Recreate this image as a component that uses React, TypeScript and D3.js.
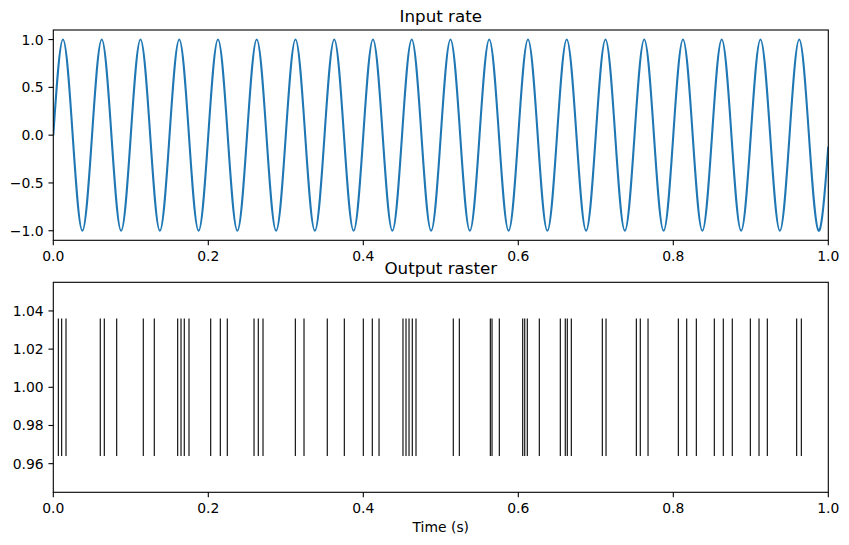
import React from "react";
import * as d3 from "d3";

// Input rate key readings (peaks, zero crossings, troughs)
const rateTimes = [
  0, 0.0125, 0.025, 0.0375, 0.05, 0.0625, 0.075, 0.0875, 0.1, 0.1125, 0.125, 0.1375,
  0.15, 0.1625, 0.175, 0.1875, 0.2, 0.2125, 0.225, 0.2375, 0.25, 0.2625, 0.275, 0.2875,
  0.3, 0.3125, 0.325, 0.3375, 0.35, 0.3625, 0.375, 0.3875, 0.4, 0.4125, 0.425, 0.4375,
  0.45, 0.4625, 0.475, 0.4875, 0.5, 0.5125, 0.525, 0.5375, 0.55, 0.5625, 0.575, 0.5875,
  0.6, 0.6125, 0.625, 0.6375, 0.65, 0.6625, 0.675, 0.6875, 0.7, 0.7125, 0.725, 0.7375,
  0.75, 0.7625, 0.775, 0.7875, 0.8, 0.8125, 0.825, 0.8375, 0.85, 0.8625, 0.875, 0.8875,
  0.9, 0.9125, 0.925, 0.9375, 0.95, 0.9625, 0.975, 0.9875, 1.0,
];
const rateValues = [
  0, 1, 0, -1, 0, 1, 0, -1, 0, 1, 0, -1,
  0, 1, 0, -1, 0, 1, 0, -1, 0, 1, 0, -1,
  0, 1, 0, -1, 0, 1, 0, -1, 0, 1, 0, -1,
  0, 1, 0, -1, 0, 1, 0, -1, 0, 1, 0, -1,
  0, 1, 0, -1, 0, 1, 0, -1, 0, 1, 0, -1,
  0, 1, 0, -1, 0, 1, 0, -1, 0, 1, 0, -1,
  0, 1, 0, -1, 0, 1, 0, -1, -0.12,
];

// Output raster spike times
const spikeTimes = [
  0.0065, 0.0108, 0.0164, 0.0606, 0.0658, 0.0818, 0.1161, 0.1303, 0.1605, 0.1648,
  0.169, 0.1751, 0.2031, 0.2155, 0.2245, 0.259, 0.2645, 0.2706, 0.3123, 0.3235,
  0.3535, 0.3755, 0.4, 0.4116, 0.4203, 0.4512, 0.4551, 0.459, 0.4632, 0.468,
  0.5161, 0.5239, 0.5639, 0.5661, 0.5755, 0.6057, 0.6083, 0.6116, 0.6271, 0.6542,
  0.6606, 0.6632, 0.6684, 0.7084, 0.7132, 0.7523, 0.7574, 0.7674, 0.8065, 0.8173,
  0.8297, 0.8529, 0.8645, 0.8761, 0.8994, 0.9106, 0.9213, 0.9592, 0.9652,
];
const spikeOffset = 1.0;
const spikeHalfLength = 0.036;

const xTicks = [0, 0.2, 0.4, 0.6, 0.8, 1.0];
const rateTicks = [-1.0, -0.5, 0.0, 0.5, 1.0];
const rasterTicks = [0.96, 0.98, 1.0, 1.02, 1.04];

const W = 849;
const H = 545;
const left = 53.3;
const right = 828.3;
const top1 = 30, bottom1 = 240.3;
const top2 = 282.3, bottom2 = 492.3;
const FONT = "DejaVu Sans, sans-serif";
const TICK = 4.86;
const PAD = 4.86;
const fs = 13.9;

const fmt = (v: number, d: number) => {
  const s = Math.abs(v).toFixed(d);
  return v < 0 ? "\u2212" + s : s;
};

function Axes({ y0, y1, yScale, yTicks, yDigits, title, children }: any) {
  const x = d3.scaleLinear().domain([0, 1]).range([left, right]);
  return (
    <g>
      {children}
      <rect x={left} y={y0} width={right - left} height={y1 - y0} fill="none" stroke="#000" strokeWidth={1.1} />
      {xTicks.map((t) => (
        <g key={"x" + t}>
          <line x1={x(t)} x2={x(t)} y1={y1} y2={y1 + TICK} stroke="#000" strokeWidth={1.1} />
          <text x={x(t)} y={y1 + TICK + PAD + fs * 0.76} textAnchor="middle" fontSize={fs} fontFamily={FONT} fill="#000">
            {t.toFixed(1)}
          </text>
        </g>
      ))}
      {yTicks.map((t: number) => (
        <g key={"y" + t}>
          <line x1={left - TICK} x2={left} y1={yScale(t)} y2={yScale(t)} stroke="#000" strokeWidth={1.1} />
          <text x={left - TICK - PAD} y={yScale(t)} dy="0.36em" textAnchor="end" fontSize={fs} fontFamily={FONT} fill="#000">
            {fmt(t, yDigits)}
          </text>
        </g>
      ))}
      <text x={(left + right) / 2} y={y0 - 8.3} textAnchor="middle" fontSize={16.7} fontFamily={FONT} fill="#000">
        {title}
      </text>
    </g>
  );
}

export default function App() {
  const x = d3.scaleLinear().domain([0, 1]).range([left, right]);
  const y1 = d3.scaleLinear().domain([-1.1, 1.1]).range([bottom1, top1]);
  const y2 = d3.scaleLinear().domain([0.945, 1.055]).range([bottom2, top2]);
  const pts = rateTimes.map((t, i) => [t, rateValues[i]] as [number, number]);
  const line = d3
    .line<[number, number]>()
    .x((d) => x(d[0]))
    .y((d) => y1(d[1]))
    .curve(d3.curveNatural);

  return (
    <svg width={W} height={H} style={{ position: "absolute", left: 0, top: 0, background: "#fff" }}>
      <rect width={W} height={H} fill="#fff" />
      <defs>
        <clipPath id="c1">
          <rect x={left} y={top1} width={right - left} height={bottom1 - top1} />
        </clipPath>
      </defs>
      <Axes y0={top1} y1={bottom1} yScale={y1} yTicks={rateTicks} yDigits={1} title="Input rate">
        <path d={line(pts) || ""} fill="none" stroke="#1f77b4" strokeWidth={2.08} clipPath="url(#c1)" />
      </Axes>
      <Axes y0={top2} y1={bottom2} yScale={y2} yTicks={rasterTicks} yDigits={2} title="Output raster">
        {spikeTimes.map((t, i) => (
          <line
            key={i}
            x1={x(t)}
            x2={x(t)}
            y1={y2(spikeOffset - spikeHalfLength)}
            y2={y2(spikeOffset + spikeHalfLength)}
            stroke="#000"
            strokeWidth={1.1}
          />
        ))}
      </Axes>
      <text x={(left + right) / 2} y={532} textAnchor="middle" fontSize={fs} fontFamily={FONT} fill="#000">
        Time (s)
      </text>
    </svg>
  );
}
